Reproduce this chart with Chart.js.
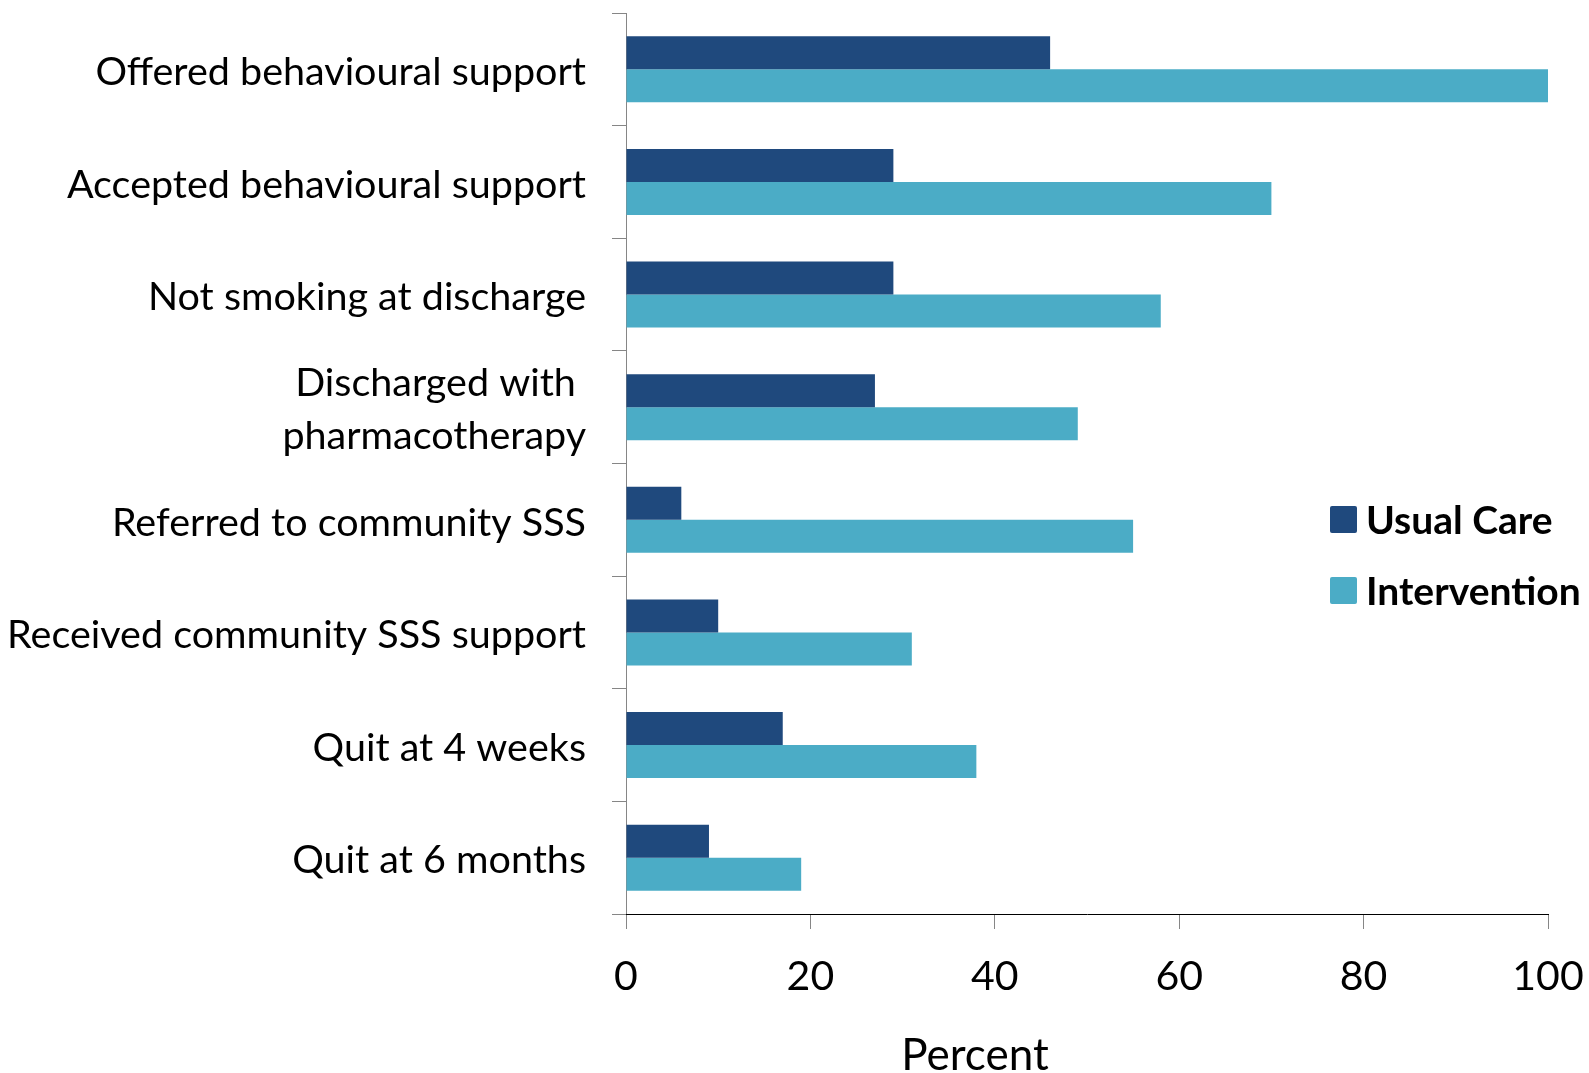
<!DOCTYPE html>
<html>
<head>
<meta charset="utf-8">
<script src="https://cdn.jsdelivr.net/npm/chart.js@4/dist/chart.umd.min.js"></script>
<style>
    html, body { margin: 0; padding: 0; background: #fff; }
    #wrap { position: relative; width: 1589px; height: 1073px; }
    #legend { position: absolute; left: 1330px; top: 501px; font-family: Lato, sans-serif; font-weight: bold; font-size: 39px; color: #000; }
    #legend .item { display: flex; align-items: center; height: 36px; margin-bottom: 35px; white-space: nowrap; }
    #legend .box { width: 27px; height: 27px; border-radius: 2px; margin-right: 9px; }
</style>
</head>
<body>
<div id="wrap">
    <canvas id="bar-chart" width="1589" height="1073"></canvas>
    <div id="legend"></div>
</div>
<script>
const categories = [
    'Offered behavioural support',
    'Accepted behavioural support',
    'Not smoking at discharge',
    ['Discharged with ', 'pharmacotherapy'],
    'Referred to community SSS',
    'Received community SSS support',
    'Quit at 4 weeks',
    'Quit at 6 months'
];
const usualCare = [46, 29, 29, 27, 6, 10, 17, 9];
const intervention = [100, 70, 58, 49, 55, 31, 38, 19];
const xTicks = [0, 20, 40, 60, 80, 100];
const axisTitle = 'Percent';

const darkBlue = '#1f497d';
const lightBlue = '#4bacc6';

// axis title is not centred on the plot in the original, so draw it by hand
const titlePlugin = {
    id: 'axisTitle',
    afterDraw(chart) {
        const ctx = chart.ctx;
        ctx.save();
        ctx.font = '44px Lato, sans-serif';
        ctx.fillStyle = '#000';
        ctx.textAlign = 'center';
        ctx.textBaseline = 'middle';
        ctx.fillText(axisTitle, 975, 1056);
        ctx.restore();
    }
};

const ctx = document.getElementById('bar-chart').getContext('2d');
const barChart = new Chart(ctx, {
    type: 'bar',
    data: {
        labels: categories,
        datasets: [
            {
                label: 'Usual Care',
                data: usualCare,
                backgroundColor: darkBlue,
                categoryPercentage: 0.586,
                barPercentage: 1
            },
            {
                label: 'Intervention',
                data: intervention,
                backgroundColor: lightBlue,
                categoryPercentage: 0.586,
                barPercentage: 1
            }
        ]
    },
    options: {
        indexAxis: 'y',
        responsive: false,
        animation: false,
        layout: {
            padding: { top: 13, right: 41, left: 0, bottom: 0 }
        },
        plugins: {
            legend: { display: false },
            tooltip: { enabled: false }
        },
        scales: {
            y: {
                afterFit: scale => {
                    scale.width = 626;
                    scale.paddingTop = 0;
                    scale.paddingBottom = 0;
                },
                grid: {
                    drawOnChartArea: false,
                    tickLength: 14,
                    color: '#868686'
                },
                border: { color: '#868686' },
                ticks: {
                    color: '#000',
                    padding: 26,
                    labelOffset: 3,
                    font: { family: 'Lato, sans-serif', size: 39.5, lineHeight: 1.34 }
                }
            },
            x: {
                min: 0,
                max: 100,
                afterFit: scale => {
                    scale.height = 159;
                    scale.paddingLeft = 0;
                    scale.paddingRight = 0;
                },
                afterBuildTicks: scale => { scale.ticks = xTicks.map(v => ({ value: v })); },
                grid: {
                    drawOnChartArea: false,
                    tickLength: 15,
                    color: '#868686'
                },
                border: { color: '#000' },
                ticks: {
                    color: '#000',
                    padding: 23,
                    font: { family: 'Lato, sans-serif', size: 41 }
                }
            }
        }
    },
    plugins: [titlePlugin]
});

const legendEl = document.getElementById('legend');
barChart.data.datasets.forEach(ds => {
    const item = document.createElement('div');
    item.className = 'item';
    const box = document.createElement('span');
    box.className = 'box';
    box.style.background = ds.backgroundColor;
    const txt = document.createElement('span');
    txt.textContent = ds.label;
    item.appendChild(box);
    item.appendChild(txt);
    legendEl.appendChild(item);
});
</script>
</body>
</html>
